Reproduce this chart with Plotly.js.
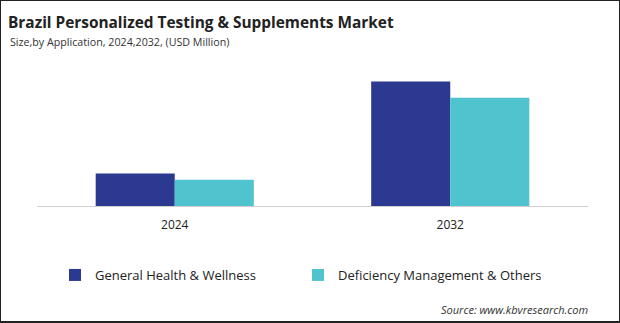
<!DOCTYPE html>
<html>
<head>
<meta charset="utf-8">
<script src="https://cdn.plot.ly/plotly-3.0.1.min.js"></script>
<style>
html,body{margin:0;padding:0;background:#fff;}
#wrap{position:relative;width:620px;height:323px;}
#chart{position:absolute;left:0;top:0;width:620px;height:323px;}
#frame{position:absolute;left:0;top:0;width:620px;height:323px;box-sizing:border-box;border:1px solid #222;border-bottom-width:2px;pointer-events:none;}
</style>
</head>
<body>
<div id="wrap"><div id="chart"></div><div id="frame"></div></div>
<script>
const categories = ["2024", "2032"];
const seriesNames = ["General Health & Wellness", "Deficiency Management & Others"];
const generalHealth = [32.4, 124.6];
const deficiencyMgmt = [26.3, 108.2];
const seriesColors = ["#2B3990", "#4FC4CF"];

const FONT = "Open Sans, Noto Sans, sans-serif";
// plot area: top 60px, bottom 206px
const py = (Y) => (206 - Y) / 146;
const px = (X) => (X - 37) / 551;

const traces = [
  {type: "bar", name: seriesNames[0], x: categories, y: generalHealth, marker: {color: seriesColors[0]}, hoverinfo: "none"},
  {type: "bar", name: seriesNames[1], x: categories, y: deficiencyMgmt, marker: {color: seriesColors[1]}, hoverinfo: "none"}
];

const layout = {
  width: 620, height: 323,
  paper_bgcolor: "#fff", plot_bgcolor: "#fff",
  margin: {l: 37, r: 32, t: 60, b: 117},
  font: {family: FONT, color: "#333"},
  barmode: "group",
  bargap: 0.426,
  bargroupgap: 0,
  title: {
    text: "<b>Brazil Personalized Testing & Supplements Market</b>",
    font: {family: FONT, size: 15.4, color: "#222"},
    x: 8/620, xanchor: "left", xref: "container", y: 1 - 22.5/323, yref: "container", yanchor: "middle"
  },
  annotations: [
    {text: "Size,by Application, 2024,2032, (USD Million)", xref: "paper", yref: "paper",
     x: px(8), y: py(42), xanchor: "left", yanchor: "middle", showarrow: false,
     font: {family: FONT, size: 10.7, color: "#333"}},
    {text: "<i>Source: www.kbvresearch.com</i>", xref: "paper", yref: "paper",
     x: px(590), y: py(309), xanchor: "right", yanchor: "middle", showarrow: false,
     font: {family: FONT, size: 11, color: "#333"}}
  ],
  xaxis: {
    type: "category", showgrid: false, zeroline: false,
    showline: true, linecolor: "#d0d0d0", linewidth: 1,
    ticks: "", tickfont: {family: FONT, size: 12, color: "#222"}, ticklabelstandoff: 8
  },
  yaxis: {range: [0, 146], visible: false, showgrid: false, zeroline: false},
  showlegend: true,
  legend: {
    orientation: "h", x: px(55), xanchor: "left", y: py(275), yanchor: "middle",
    font: {family: FONT, size: 13, color: "#222"}, itemwidth: 30, entrywidth: 198, traceorder: "normal"
  }
};
Plotly.newPlot("chart", traces, layout, {displayModeBar: false, staticPlot: true});
</script>
</body>
</html>
